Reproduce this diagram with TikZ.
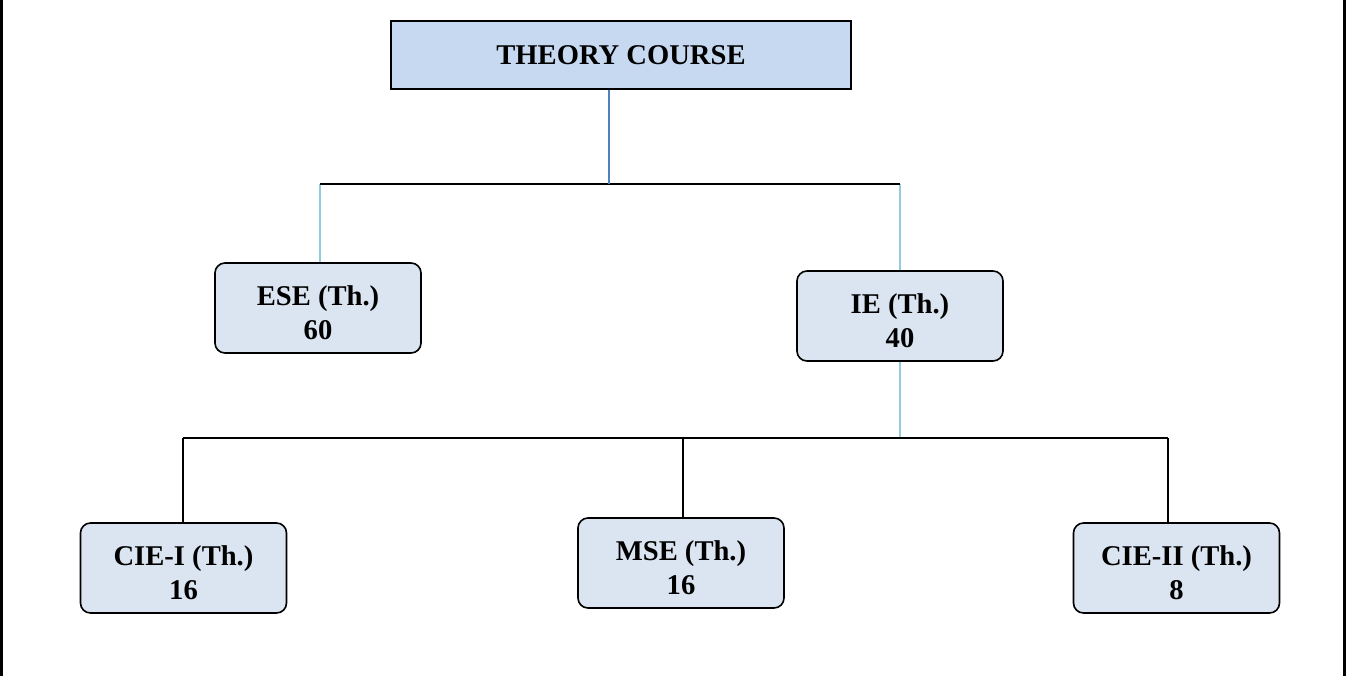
\documentclass[tikz,border=0pt]{standalone}
\usepackage{fontspec}
\setmainfont{Liberation Serif}
\definecolor{topfill}{HTML}{C6D9F1}
\definecolor{boxfill}{HTML}{DBE5F1}
\definecolor{darkblue}{HTML}{4F81BD}
\definecolor{aqua}{HTML}{93CDDD}
\newcommand{\topstrut}{\rule{0pt}{15pt}}
\begin{document}
\begin{tikzpicture}[x=0.5pt,y=-0.5pt,
  topbox/.style={draw=black, line width=0.8pt, fill=topfill, minimum width=230pt, minimum height=34pt, inner sep=0pt, font=\fontsize{14.3}{17}\selectfont\bfseries},
  leaf/.style={draw=black, line width=0.8pt, fill=boxfill, rounded corners=5pt, minimum width=103pt, minimum height=45pt, inner sep=0pt, align=center, font=\fontsize{14.3}{17}\selectfont\bfseries},
  blk/.style={draw=black, line width=0.9pt},
  aq/.style={draw=aqua, line width=1pt},
  frame/.style={draw=black, line width=1.5pt}]
\useasboundingbox (0,0) rectangle (1346,676);
\draw[frame] (1,0) -- (1,676);
\draw[frame] (1344.5,0) -- (1344.5,676);
\node[topbox] (theory) at (621,55) {THEORY COURSE};
\node[leaf] (ese) at (318,308) {\topstrut ESE (Th.)\\60};
\node[leaf] (ie) at (900,316) {\topstrut IE (Th.)\\40};
\node[leaf] (cie1) at (183.5,568) {\topstrut CIE-I (Th.)\\16};
\node[leaf] (mse) at (681,563) {\topstrut MSE (Th.)\\16};
\node[leaf] (cie2) at (1176.5,568) {\topstrut CIE-II (Th.)\\8};
\coordinate (t) at (609,184);
\coordinate (hl) at (320,184);
\coordinate (hr) at (900,184);
\coordinate (bl) at (183,438);
\coordinate (bm) at (683,438);
\coordinate (bi) at (900,438);
\coordinate (br) at (1168,438);
\draw[aq] (hl) -- (hl |- ese.north);
\draw[aq] (hr) -- (ie.north);
\draw[aq] (ie.south) -- (bi);
\draw[blk] (hl) -- (hr);
\draw[draw=darkblue, line width=1pt] (t |- theory.south) -- (t);
\draw[blk] (bl) -- (br);
\draw[blk] (bl) -- (bl |- cie1.north);
\draw[blk] (bm) -- (bm |- mse.north);
\draw[blk] (br) -- (br |- cie2.north);
\end{tikzpicture}
\end{document}
